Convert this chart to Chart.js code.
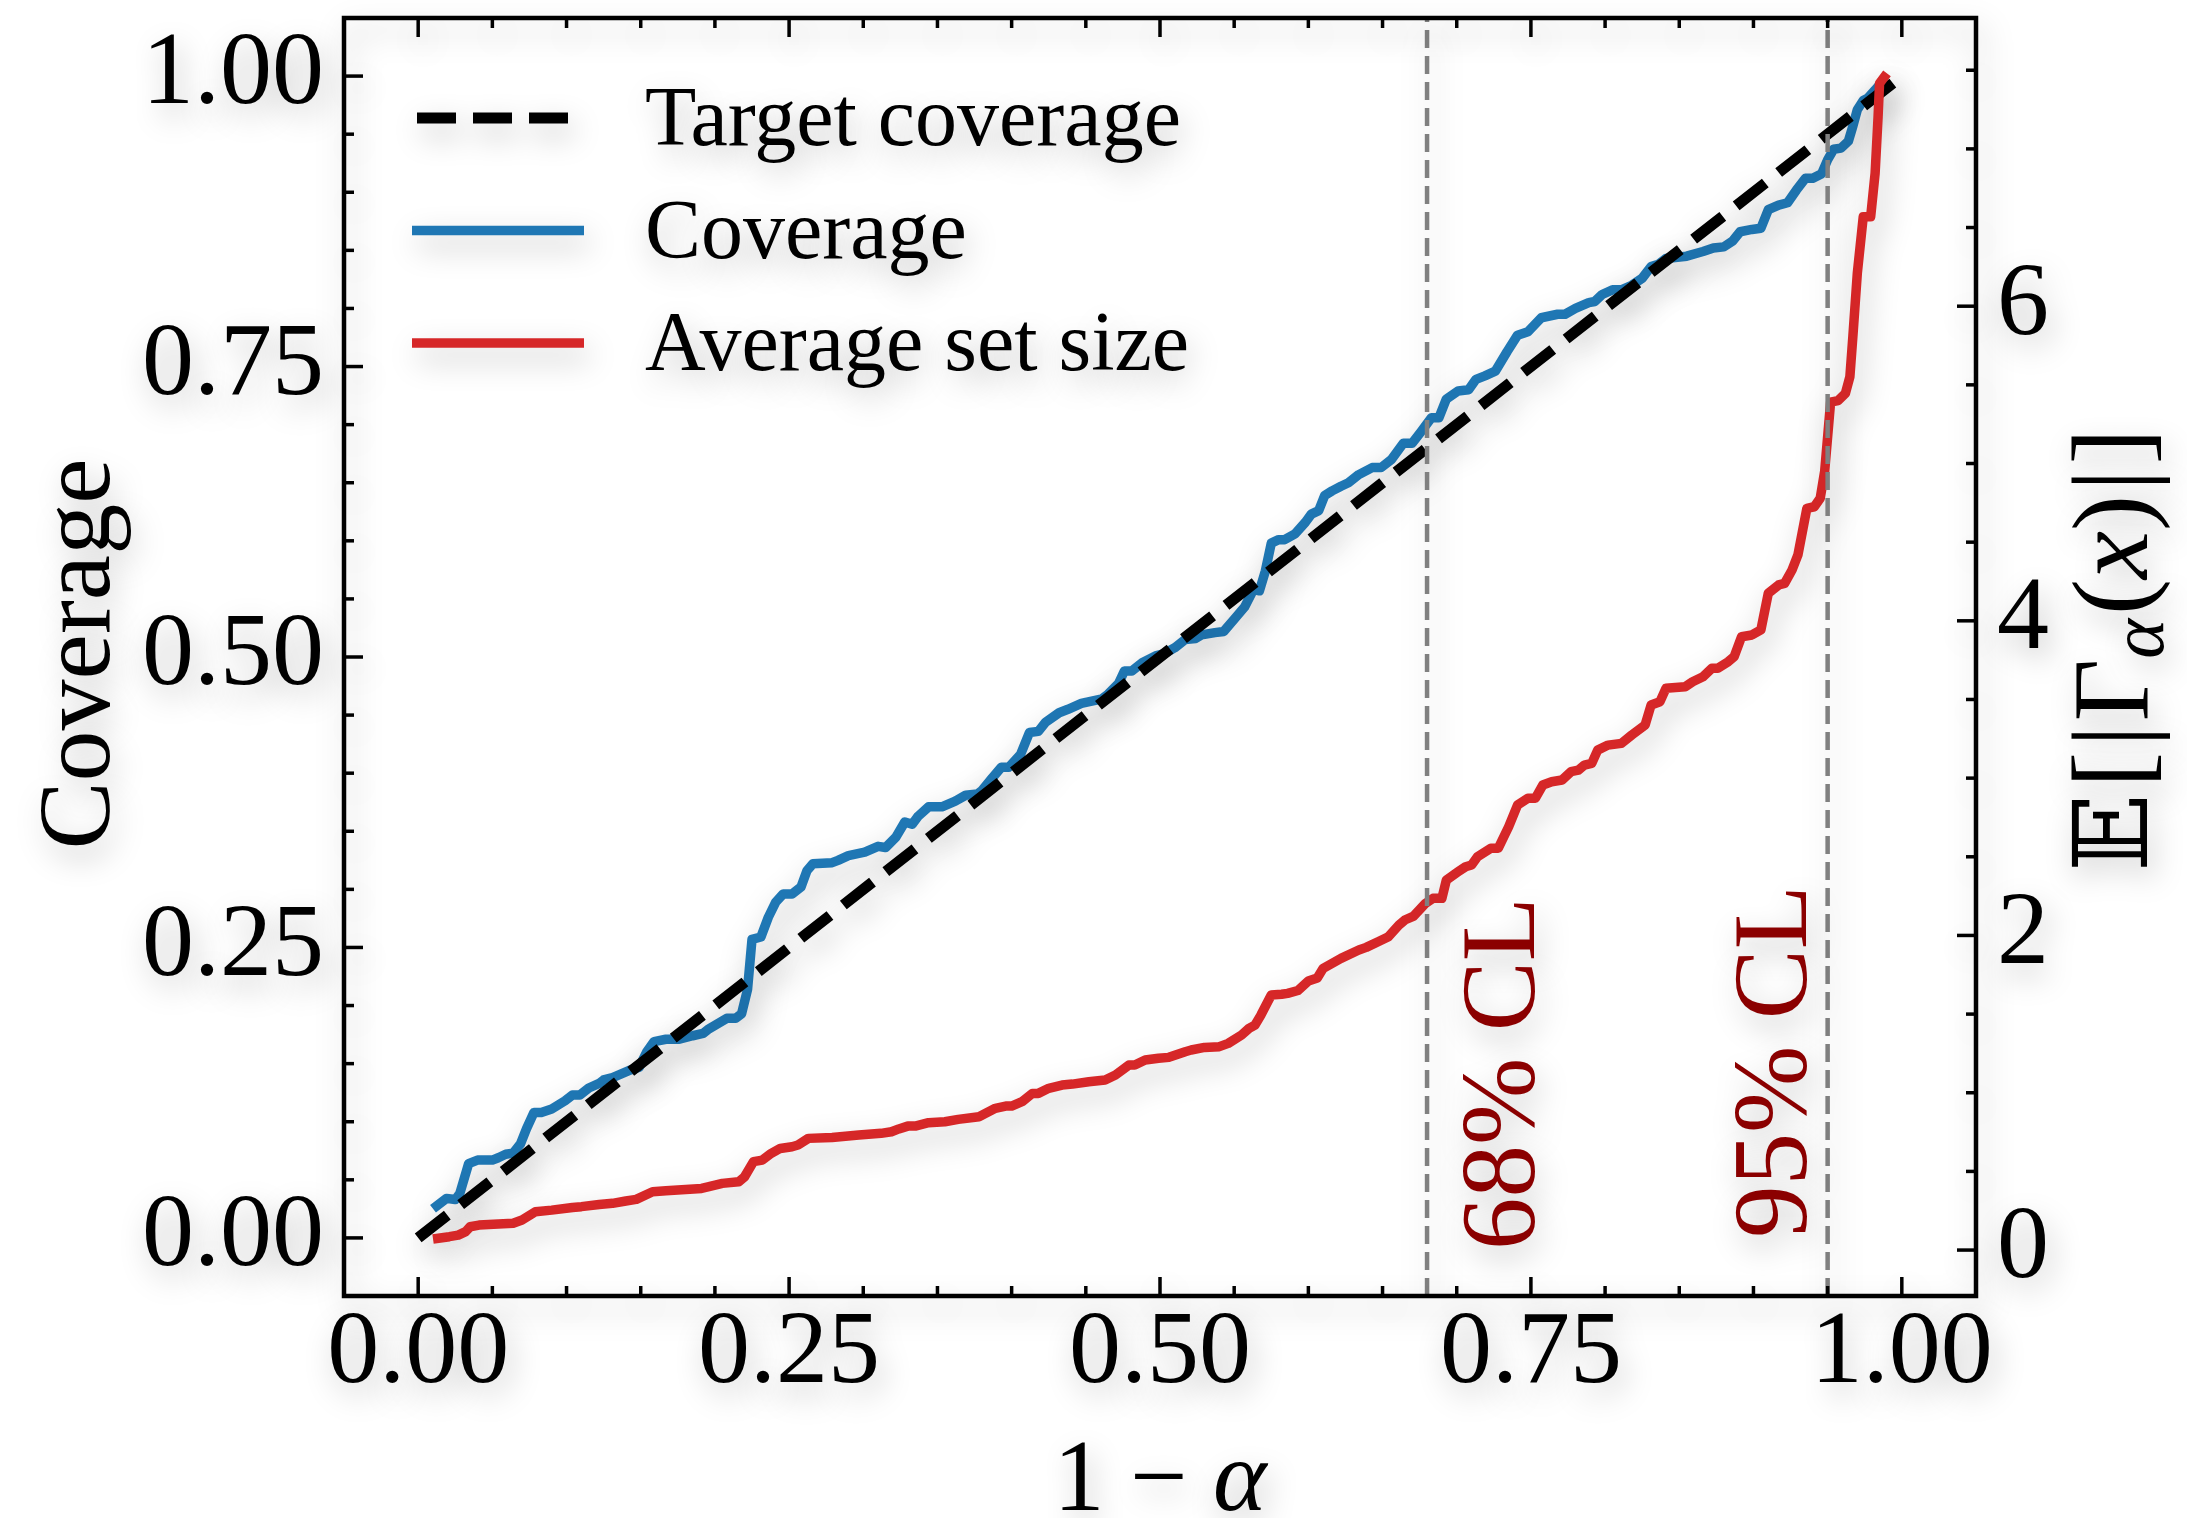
<!DOCTYPE html>
<html>
<head>
<meta charset="utf-8">
<script src="https://cdn.jsdelivr.net/npm/chart.js@4.4.1/dist/chart.umd.min.js"></script>
<style>
  html, body { margin: 0; padding: 0; background: #fff; }
  canvas { display: block; }
</style>
</head>
<body>
<canvas id="chart" width="2187" height="1518"></canvas>
<script>
// values
const coverageX = [0.010, 0.019, 0.025, 0.028, 0.034, 0.040, 0.050, 0.054, 0.059, 0.064, 0.069, 0.073, 0.078, 0.083, 0.090, 0.099, 0.104, 0.109, 0.115, 0.122, 0.125, 0.131, 0.142, 0.149, 0.154, 0.159, 0.167, 0.176, 0.185, 0.192, 0.196, 0.200, 0.208, 0.214, 0.218, 0.222, 0.225, 0.231, 0.236, 0.241, 0.246, 0.252, 0.258, 0.262, 0.266, 0.279, 0.283, 0.290, 0.301, 0.310, 0.315, 0.322, 0.328, 0.333, 0.337, 0.344, 0.353, 0.362, 0.369, 0.377, 0.380, 0.387, 0.393, 0.398, 0.406, 0.412, 0.418, 0.423, 0.432, 0.438, 0.447, 0.461, 0.465, 0.472, 0.476, 0.481, 0.488, 0.497, 0.503, 0.510, 0.517, 0.524, 0.528, 0.537, 0.543, 0.551, 0.557, 0.563, 0.567, 0.571, 0.575, 0.580, 0.584, 0.591, 0.598, 0.602, 0.607, 0.611, 0.616, 0.622, 0.627, 0.634, 0.643, 0.649, 0.656, 0.664, 0.670, 0.676, 0.683, 0.688, 0.693, 0.701, 0.708, 0.713, 0.719, 0.726, 0.734, 0.741, 0.748, 0.757, 0.768, 0.773, 0.780, 0.789, 0.793, 0.798, 0.805, 0.811, 0.818, 0.825, 0.831, 0.836, 0.841, 0.855, 0.866, 0.873, 0.880, 0.886, 0.891, 0.899, 0.905, 0.910, 0.917, 0.923, 0.929, 0.935, 0.940, 0.946, 0.950, 0.954, 0.959, 0.964, 0.967, 0.970, 0.974, 0.977, 0.982, 0.986, 0.990];
const coverageY = [0.025, 0.034, 0.033, 0.038, 0.064, 0.067, 0.067, 0.069, 0.072, 0.073, 0.081, 0.094, 0.108, 0.108, 0.111, 0.118, 0.123, 0.123, 0.129, 0.133, 0.136, 0.138, 0.144, 0.147, 0.160, 0.169, 0.171, 0.171, 0.174, 0.176, 0.180, 0.183, 0.189, 0.189, 0.193, 0.214, 0.257, 0.259, 0.276, 0.289, 0.296, 0.296, 0.302, 0.316, 0.322, 0.323, 0.325, 0.329, 0.332, 0.337, 0.336, 0.345, 0.358, 0.356, 0.363, 0.371, 0.371, 0.376, 0.381, 0.382, 0.385, 0.396, 0.405, 0.405, 0.416, 0.435, 0.436, 0.444, 0.452, 0.455, 0.460, 0.464, 0.468, 0.477, 0.488, 0.488, 0.495, 0.501, 0.503, 0.508, 0.515, 0.516, 0.519, 0.521, 0.522, 0.534, 0.543, 0.558, 0.557, 0.574, 0.598, 0.601, 0.601, 0.606, 0.616, 0.623, 0.626, 0.639, 0.643, 0.647, 0.650, 0.657, 0.663, 0.663, 0.670, 0.684, 0.684, 0.694, 0.706, 0.706, 0.722, 0.729, 0.730, 0.739, 0.742, 0.746, 0.763, 0.777, 0.780, 0.792, 0.795, 0.795, 0.800, 0.805, 0.806, 0.812, 0.816, 0.816, 0.820, 0.826, 0.836, 0.838, 0.843, 0.845, 0.849, 0.852, 0.853, 0.858, 0.866, 0.868, 0.869, 0.885, 0.889, 0.891, 0.902, 0.912, 0.912, 0.916, 0.928, 0.937, 0.938, 0.944, 0.957, 0.971, 0.979, 0.981, 0.988, 0.994, 0.995];

const setSizeX = [0.010, 0.021, 0.027, 0.032, 0.035, 0.041, 0.054, 0.064, 0.070, 0.079, 0.090, 0.104, 0.110, 0.122, 0.131, 0.140, 0.147, 0.158, 0.167, 0.191, 0.196, 0.205, 0.216, 0.220, 0.226, 0.232, 0.238, 0.244, 0.252, 0.256, 0.263, 0.279, 0.297, 0.312, 0.319, 0.324, 0.330, 0.335, 0.344, 0.355, 0.364, 0.378, 0.389, 0.396, 0.400, 0.407, 0.414, 0.418, 0.425, 0.434, 0.441, 0.452, 0.463, 0.470, 0.479, 0.483, 0.490, 0.499, 0.506, 0.517, 0.521, 0.530, 0.540, 0.546, 0.555, 0.560, 0.564, 0.568, 0.575, 0.582, 0.586, 0.593, 0.600, 0.606, 0.610, 0.622, 0.634, 0.639, 0.647, 0.654, 0.661, 0.665, 0.671, 0.679, 0.684, 0.690, 0.693, 0.701, 0.706, 0.710, 0.714, 0.723, 0.728, 0.735, 0.741, 0.748, 0.753, 0.758, 0.764, 0.771, 0.777, 0.782, 0.786, 0.791, 0.795, 0.802, 0.811, 0.818, 0.827, 0.831, 0.837, 0.841, 0.854, 0.859, 0.866, 0.872, 0.876, 0.883, 0.887, 0.892, 0.899, 0.905, 0.910, 0.917, 0.921, 0.926, 0.930, 0.936, 0.941, 0.945, 0.948, 0.952, 0.957, 0.962, 0.965, 0.967, 0.970, 0.974, 0.979, 0.982, 0.984, 0.985, 0.990];
const setSizeY = [0.070, 0.085, 0.095, 0.117, 0.148, 0.159, 0.165, 0.170, 0.191, 0.244, 0.254, 0.271, 0.276, 0.290, 0.297, 0.312, 0.322, 0.371, 0.377, 0.392, 0.403, 0.424, 0.434, 0.466, 0.562, 0.572, 0.615, 0.646, 0.657, 0.668, 0.710, 0.716, 0.731, 0.742, 0.752, 0.770, 0.788, 0.788, 0.810, 0.816, 0.831, 0.848, 0.901, 0.915, 0.915, 0.943, 0.996, 0.996, 1.028, 1.049, 1.055, 1.070, 1.081, 1.113, 1.176, 1.176, 1.208, 1.219, 1.225, 1.261, 1.272, 1.288, 1.293, 1.314, 1.367, 1.409, 1.430, 1.494, 1.621, 1.626, 1.632, 1.650, 1.710, 1.730, 1.791, 1.854, 1.907, 1.924, 1.960, 1.992, 2.066, 2.098, 2.123, 2.204, 2.236, 2.236, 2.352, 2.405, 2.437, 2.448, 2.500, 2.554, 2.554, 2.691, 2.829, 2.872, 2.872, 2.956, 2.977, 2.988, 3.041, 3.051, 3.083, 3.094, 3.178, 3.210, 3.221, 3.274, 3.338, 3.465, 3.486, 3.571, 3.581, 3.613, 3.645, 3.698, 3.698, 3.740, 3.772, 3.899, 3.910, 3.942, 4.175, 4.228, 4.238, 4.323, 4.420, 4.715, 4.725, 4.779, 4.950, 5.390, 5.400, 5.446, 5.552, 5.806, 6.209, 6.569, 6.569, 6.845, 7.205, 7.417, 7.480];

const targetX = [0, 1];
const targetY = [0, 1];

const clLevels = [0.68, 0.95];
const clLabels = ['68% CL', '95% CL'];

const xTicks = [0, 0.25, 0.5, 0.75, 1];
const yTicks = [0, 0.25, 0.5, 0.75, 1];
const sizeTicks = [0, 2, 4, 6];

const legendLabels = ['Target coverage', 'Coverage', 'Average set size'];

const SERIF = '"Liberation Serif", "DejaVu Serif", serif';
const BLUE = '#1f77b4';
const RED = '#d62728';
const DARKRED = '#8b0000';

const toPoints = (xs, ys) => xs.map((x, i) => ({ x, y: ys[i] }));

function line(ctx, x1, y1, x2, y2) {
  ctx.beginPath();
  ctx.moveTo(x1, y1);
  ctx.lineTo(x2, y2);
  ctx.stroke();
}

// draws a run of text pieces centred on (x, y); rotated reads bottom to top
function drawPieces(ctx, pieces, x, y, rotated) {
  ctx.save();
  ctx.translate(x, y);
  if (rotated) ctx.rotate(-Math.PI / 2);
  ctx.textAlign = 'left';
  ctx.textBaseline = 'alphabetic';
  let total = 0;
  pieces.forEach(p => {
    ctx.font = p.font;
    p.w = ctx.measureText(p.t).width + (p.gap || 0);
    total += p.w;
  });
  let cx = -total / 2;
  pieces.forEach(p => {
    ctx.font = p.font;
    ctx.fillText(p.t, cx, p.dy || 0);
    cx += p.w;
  });
  ctx.restore();
}

// keep the plot box where the figure has it, whatever the label sizes
const noPad = s => { s.paddingTop = 0; s.paddingBottom = 0; s.paddingLeft = 0; s.paddingRight = 0; };

const figure = {
  id: 'figure',
  beforeDraw(chart) {
    const ctx = chart.ctx;
    ctx.save();
    ctx.fillStyle = '#fff';
    ctx.fillRect(0, 0, chart.width, chart.height);
    ctx.restore();
    // soft drop shadow on everything that follows
    ctx.shadowColor = 'rgba(0,0,0,0.25)';
    ctx.shadowBlur = 30;
    ctx.shadowOffsetX = 5;
    ctx.shadowOffsetY = 12;
  },
  afterDraw(chart) {
    const ctx = chart.ctx;
    const { left, right, top, bottom } = chart.chartArea;
    const xs = chart.scales.x, ys = chart.scales.y, y2 = chart.scales.y2;

    ctx.save();
    ctx.strokeStyle = '#000';
    ctx.fillStyle = '#000';

    // inward ticks
    ctx.lineWidth = 3.5;
    for (let i = 0; i <= 20; i++) {
      const len = i % 5 === 0 ? 19 : 10;
      const px = xs.getPixelForValue(i * 0.05);
      line(ctx, px, bottom, px, bottom - len);
      line(ctx, px, top, px, top + len);
      const py = ys.getPixelForValue(i * 0.05);
      line(ctx, left, py, left + len, py);
    }
    for (let i = 0; i <= 15; i++) {
      const len = i % 4 === 0 ? 19 : 10;
      const py = y2.getPixelForValue(i * 0.5);
      line(ctx, right, py, right - len, py);
    }

    // frame
    ctx.lineWidth = 4.5;
    ctx.strokeRect(left, top, right - left, bottom - top);

    // axis titles
    const big = '102px ' + SERIF;
    const bigIt = 'italic 102px ' + SERIF;
    drawPieces(ctx, [{ t: 'Coverage', font: big }], 109, (top + bottom) / 2 - 3, true);
    drawPieces(ctx, [{ t: '1 \u2212 ', font: big }, { t: '\u03b1', font: bigIt }], (left + right) / 2, 1510, false);
    const rf = '108px ' + SERIF;
    drawPieces(ctx, [
      { t: '\u{1D53C}', font: '102px "DejaVu Serif", "DejaVu Sans", serif', gap: 6 },
      { t: '[', font: rf, gap: 5 },
      { t: '|', font: rf, gap: 4 },
      { t: '\u0393', font: rf },
      { t: '\u03b1', font: 'italic 76px ' + SERIF, dy: 16, gap: 4 },
      { t: '(', font: rf },
      { t: 'x', font: 'italic 108px ' + SERIF },
      { t: ')', font: rf, gap: 4 },
      { t: '|', font: rf, gap: 5 },
      { t: ']', font: rf }
    ], 2147, (top + bottom) / 2 - 7, true);

    // confidence level labels
    ctx.fillStyle = DARKRED;
    ctx.font = '105px ' + SERIF;
    ctx.textAlign = 'left';
    ctx.textBaseline = 'alphabetic';
    const offsets = [107, -22];
    const starts = [12, 0];
    clLevels.forEach((v, i) => {
      ctx.save();
      ctx.translate(xs.getPixelForValue(v) + offsets[i], ys.getPixelForValue(0) + starts[i]);
      ctx.rotate(-Math.PI / 2);
      ctx.fillText(clLabels[i], 0, 0);
      ctx.restore();
    });

    // legend
    const styles = [
      { color: '#000', width: 11, dash: [39, 17], x1: left + 73, x2: left + 228 },
      { color: BLUE, width: 9.5, dash: [], x1: left + 68, x2: left + 240 },
      { color: RED, width: 9.5, dash: [], x1: left + 68, x2: left + 240 }
    ];
    ctx.font = '84px ' + SERIF;
    ctx.fillStyle = '#000';
    legendLabels.forEach((label, i) => {
      const yy = top + 100 + i * 112.5;
      const s = styles[i];
      ctx.strokeStyle = s.color;
      ctx.lineWidth = s.width;
      ctx.setLineDash(s.dash);
      ctx.lineCap = 'butt';
      line(ctx, s.x1, yy, s.x2, yy);
      ctx.setLineDash([]);
      ctx.fillText(label, left + 301, yy + 27);
    });
    ctx.restore();

    ctx.shadowColor = 'rgba(0,0,0,0)';
    ctx.shadowBlur = 0;
    ctx.shadowOffsetX = 0;
    ctx.shadowOffsetY = 0;
  }
};

const tickFont = { size: 104, family: SERIF, lineHeight: 1 };

new Chart(document.getElementById('chart').getContext('2d'), {
  type: 'line',
  data: {
    datasets: [
      {
        label: 'cl68',
        data: [{ x: clLevels[0], y: -0.05 }, { x: clLevels[0], y: 1.05 }],
        borderColor: '#808080', borderWidth: 4.5, borderDash: [18, 8], yAxisID: 'y'
      },
      {
        label: 'cl95',
        data: [{ x: clLevels[1], y: -0.05 }, { x: clLevels[1], y: 1.05 }],
        borderColor: '#808080', borderWidth: 4.5, borderDash: [18, 8], yAxisID: 'y'
      },
      {
        label: legendLabels[2],
        data: toPoints(setSizeX, setSizeY),
        borderColor: RED, borderWidth: 9.5, yAxisID: 'y2'
      },
      {
        label: legendLabels[0],
        data: toPoints(targetX, targetY),
        borderColor: '#000', borderWidth: 11, borderDash: [37, 17], yAxisID: 'y'
      },
      {
        label: legendLabels[1],
        data: toPoints(coverageX, coverageY),
        borderColor: BLUE, borderWidth: 9.5, yAxisID: 'y'
      }
    ]
  },
  options: {
    responsive: false,
    animation: false,
    devicePixelRatio: 1,
    layout: { padding: { top: 18, left: 0, right: 0, bottom: 0 } },
    elements: {
      point: { radius: 0 },
      line: { tension: 0, borderJoinStyle: 'round', borderCapStyle: 'butt', fill: false }
    },
    plugins: { legend: { display: false }, tooltip: { enabled: false } },
    scales: {
      x: {
        type: 'linear', min: -0.05, max: 1.05,
        grid: { display: false, drawTicks: false }, border: { display: false },
        afterBuildTicks: s => { s.ticks = xTicks.map(v => ({ value: v })); },
        afterFit: s => { s.height = 222; noPad(s); },
        ticks: { font: tickFont, color: '#000', padding: 7, maxRotation: 0, autoSkip: false, callback: v => v.toFixed(2) }
      },
      y: {
        type: 'linear', position: 'left', min: -0.05, max: 1.05,
        grid: { display: false, drawTicks: false }, border: { display: false },
        afterBuildTicks: s => { s.ticks = yTicks.map(v => ({ value: v })); },
        afterFit: s => { s.width = 344; noPad(s); },
        ticks: { font: tickFont, color: '#000', padding: 20, autoSkip: false, callback: v => v.toFixed(2) }
      },
      y2: {
        type: 'linear', position: 'right', min: -0.292, max: 7.832,
        grid: { display: false, drawTicks: false }, border: { display: false },
        afterBuildTicks: s => { s.ticks = sizeTicks.map(v => ({ value: v })); },
        afterFit: s => { s.width = 211; noPad(s); },
        ticks: { font: tickFont, color: '#000', padding: 21, autoSkip: false, callback: v => String(v) }
      }
    }
  },
  plugins: [figure]
});
</script>
</body>
</html>
